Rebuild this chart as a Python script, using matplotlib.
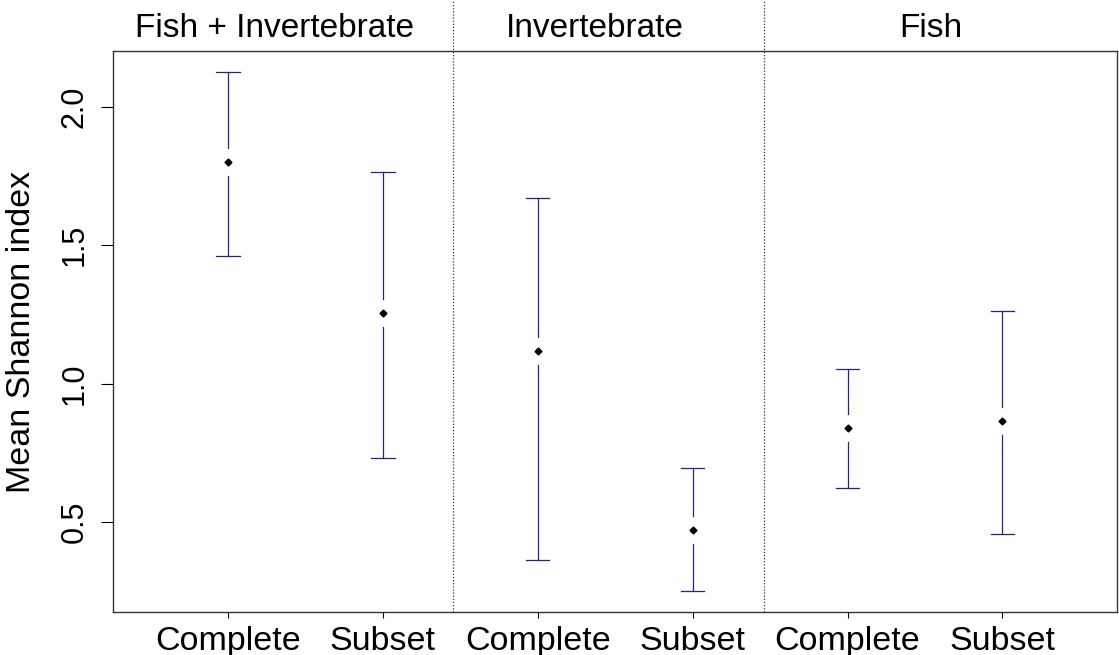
import numpy as np
import matplotlib.pyplot as plt

plt.rcParams['font.family'] = ['Liberation Sans', 'DejaVu Sans']

# values
groups = ["Fish + Invertebrate", "Invertebrate", "Fish"]
tick_labels = ["Complete", "Subset", "Complete", "Subset", "Complete", "Subset"]
means = [1.80, 1.255, 1.118, 0.471, 0.840, 0.865]
upper = [2.126, 1.765, 1.671, 0.695, 1.052, 1.262]
lower = [1.461, 0.731, 0.363, 0.251, 0.623, 0.457]

x = np.arange(1, len(means) + 1)
divider_x = [2.45, 4.46]
group_label_x = [1.30, 3.367, 5.535]

bar_col = '#26267e'
gap = 0.05
cap = 0.075

fig = plt.figure(figsize=(11.19, 6.55), dpi=100)
ax = fig.add_axes([113 / 1119, 1 - 612 / 655, (1117 - 113) / 1119, (612 - 51) / 655])

for xi, m, lo, hi in zip(x, means, lower, upper):
    # plotCI-style bars with a gap around the point
    ax.plot([xi, xi], [m + gap, hi], color=bar_col, lw=0.9)
    ax.plot([xi, xi], [lo, m - gap], color=bar_col, lw=0.9)
    ax.plot([xi - cap, xi + cap], [hi, hi], color=bar_col, lw=0.9)
    ax.plot([xi - cap, xi + cap], [lo, lo], color=bar_col, lw=0.9)
ax.plot(x, means, 'D', color='black', markersize=3.5, linestyle='none')

ax.set_xlim(0.257, 6.74)
ax.set_ylim(0.175, 2.202)

for dx in divider_x:
    ax.plot([dx, dx], [0, 1.095], transform=ax.get_xaxis_transform(),
            color='#333333', lw=0.9, linestyle=(0, (1, 1.5)), clip_on=False)

for gx, g in zip(group_label_x, groups):
    ax.text(gx, 1.025, g, transform=ax.get_xaxis_transform(),
            ha='center', va='baseline', fontsize=24)

ax.set_xticks(x)
ax.set_xticklabels(tick_labels, fontsize=24.5)
ax.tick_params(axis='x', length=4, pad=6)

ax.set_yticks([0.5, 1.0, 1.5, 2.0])
ax.set_yticklabels(["0.5", "1.0", "1.5", "2.0"], fontsize=22, rotation=90, va='center')
ax.tick_params(axis='y', length=9, pad=8)
ax.set_ylabel("Mean Shannon index", fontsize=24.5, labelpad=16)

for s in ax.spines.values():
    s.set_color('#333333')
    s.set_linewidth(1.0)

fig.savefig("out.png", dpi=100)
